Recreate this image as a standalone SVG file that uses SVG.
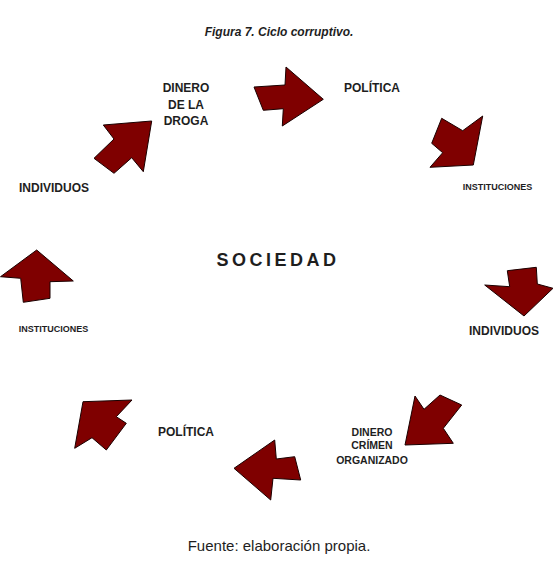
<svg xmlns="http://www.w3.org/2000/svg" width="554" height="573" viewBox="0 0 554 573">
<style>
.arr{fill:#7f0000;stroke:#1a0000;stroke-width:1;stroke-linejoin:miter}
text{font-family:"Liberation Sans",Arial,sans-serif;fill:#1e1e1e;text-anchor:middle}
.b{font-weight:bold}
.l{font-size:12px}
.s{font-size:9px}
.m{font-size:10.5px}
</style>
<rect width="554" height="573" fill="#ffffff"/>
<text x="279" y="36" class="b" font-size="12" font-style="italic">Figura 7. Ciclo corruptivo.</text>
<g id="connectors">
<polygon class="arr" points="151.7,121 103.3,125 114,139 94,158.3 114,173.3 131.7,157.7 143.3,171.7"/>
<polygon class="arr" points="254,87 285,85 286,67 323.3,99.3 282.3,126 283.3,108.7 263.3,110.3"/>
<polygon class="arr" points="441.7,118.3 462.7,130.7 482.7,116 473.3,165 430,167.3 442.7,152.7 431.7,143.3"/>
<polygon class="arr" points="507.3,270.7 536.3,267.3 537.3,284 553,288.3 524,316 484.7,285 509.7,286.7"/>
<polygon class="arr" points="415,396 424,409.3 440,395 461.7,405 443.3,428.3 453.3,443.3 405,445"/>
<polygon class="arr" points="234,468.3 274.7,440 276.3,459 294.7,456.7 300.7,480 273,478.3 270.7,500"/>
<polygon class="arr" points="83,401.7 132,400 116.3,416.7 126.3,423.3 106.3,450 92,437.7 74.7,448.3"/>
<polygon class="arr" points="36.7,250 73.3,281 50,281.7 50,298.3 23.3,302.3 20.7,278.3 0.5,276.7"/>
</g>
<g id="center"><text x="278" y="266" class="b" font-size="18" letter-spacing="3.5">SOCIEDAD</text></g>
<g id="dinero-droga"><text x="186" y="92" class="b l">DINERO</text><text x="186" y="109" class="b l">DE LA</text><text x="186" y="125" class="b l">DROGA</text></g>
<g id="politica-top"><text x="372" y="92" class="b l">POLÍTICA</text></g>
<g id="instituciones-right"><text x="497.5" y="190" class="b s">INSTITUCIONES</text></g>
<g id="individuos-right"><text x="504" y="335" class="b l">INDIVIDUOS</text></g>
<g id="dinero-crimen"><text x="372" y="435.5" class="b m">DINERO</text><text x="372" y="449" class="b m">CRÍMEN</text><text x="372" y="464" class="b m">ORGANIZADO</text></g>
<g id="politica-bottom"><text x="186" y="436" class="b l">POLÍTICA</text></g>
<g id="instituciones-left"><text x="53.5" y="332" class="b s">INSTITUCIONES</text></g>
<g id="individuos-left"><text x="54" y="192" class="b l">INDIVIDUOS</text></g>
<text x="279" y="551" font-size="15">Fuente: elaboración propia.</text>
</svg>
